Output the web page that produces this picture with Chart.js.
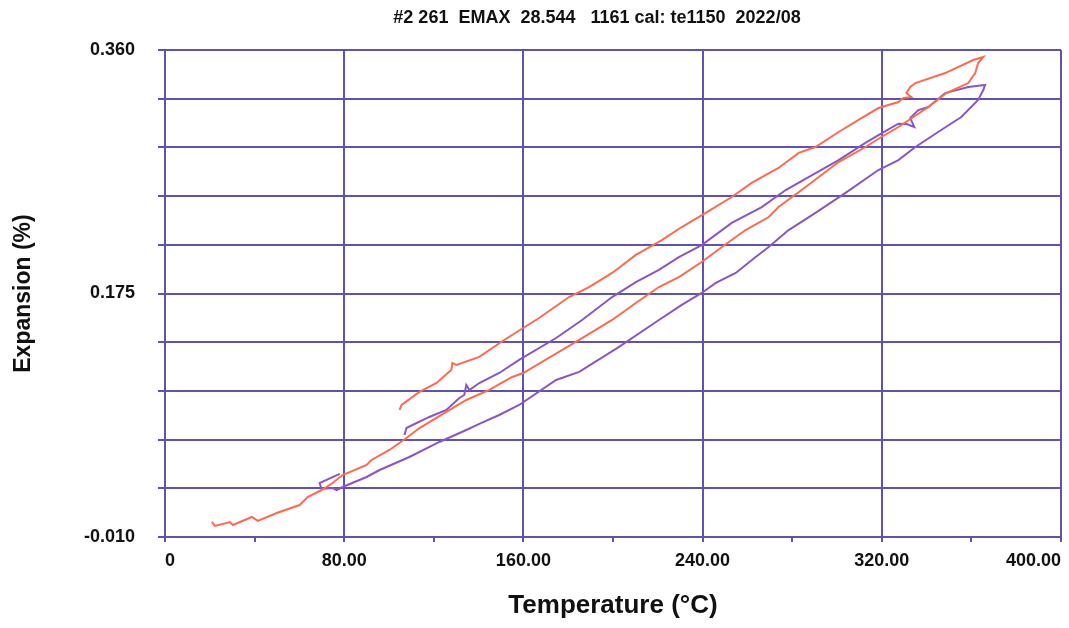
<!DOCTYPE html>
<html>
<head>
<meta charset="utf-8">
<script src="https://cdn.jsdelivr.net/npm/chart.js@4"></script>
<style>
  html, body { margin: 0; padding: 0; background: #ffffff; }
  #wrap { width: 1069px; height: 628px; position: relative; }
</style>
</head>
<body>
<div id="wrap"><canvas id="chart"></canvas></div>
<script>
// ─── Data (temperature °C, expansion %) ───────────────────────────────────────

// first cycle (orange): heating along the lower branch, cooling back on the upper one
const orangeT = [20.9, 22.3, 29.0, 30.3, 38.8, 41.4, 49.9, 60.1, 63.7, 69.9, 74.8, 79.3, 90.0, 92.2,
    100.2, 107.8, 113.6, 125.6, 134.5, 144.8, 155.0, 159.9, 184.9, 199.6, 210.2, 220.5, 229.4, 239.6,
    248.6, 259.2, 269.5, 273.9, 286.0, 300.7, 312.7, 319.8, 327.4, 340.8, 348.8, 358.6, 361.7, 363.0,
    365.3,
    360.8, 348.3, 335.0, 332.7, 331.0, 333.2, 329.6, 327.4, 318.5, 310.9, 300.7, 290.4, 282.9, 273.9,
    261.9, 253.0, 241.4, 230.7, 221.8, 210.2, 199.6, 189.3, 180.4, 167.0, 151.4, 140.3, 130.1, 128.3,
    127.8, 121.2, 113.6, 105.6, 104.7];
const orangeE = [0.0014, -0.0016, 0.0014, -0.0009, 0.0052, 0.0022, 0.0082, 0.0143, 0.0204, 0.0257, 0.0310,
    0.0371, 0.0447, 0.0485, 0.0561, 0.0652, 0.0728, 0.0850, 0.0941, 0.1017, 0.1116, 0.1146, 0.1397,
    0.1549, 0.1678, 0.1799, 0.1875, 0.1989, 0.2103, 0.2232, 0.2331, 0.2407, 0.2559, 0.2749, 0.2863,
    0.2939, 0.3015, 0.3167, 0.3273, 0.3349, 0.3425, 0.3501, 0.3547,
    0.3524, 0.3425, 0.3349, 0.3319, 0.3273, 0.3243, 0.3235, 0.3205, 0.3159, 0.3083, 0.2977, 0.2863,
    0.2818, 0.2704, 0.2590, 0.2483, 0.2362, 0.2255, 0.2156, 0.2043, 0.1906, 0.1799, 0.1723, 0.1564,
    0.1397, 0.1268, 0.1207, 0.1222, 0.1169, 0.1070, 0.1002, 0.0903, 0.0865];

// second cycle (purple)
const purpleT = [78.0, 69.0, 69.9, 74.8, 76.6, 79.3, 90.0, 95.8, 109.1, 122.5, 134.5, 140.3,
    149.2, 158.1, 174.6, 184.9, 202.7, 220.5, 230.7, 239.6, 245.9, 254.8, 263.7, 269.5, 278.4, 290.4,
    303.8, 318.5, 327.4, 335.0, 346.5, 355.5, 363.0, 365.3, 366.1,
    358.6, 348.3, 340.8, 336.3, 332.7, 334.5, 331.0, 327.4, 318.5, 312.7, 300.7, 287.3, 277.1, 266.4,
    253.0, 239.6, 229.4, 220.5, 210.2, 199.6, 186.2, 174.6, 158.1, 149.2, 140.3, 135.9, 134.5, 133.6,
    131.4, 125.6, 118.0, 110.5, 107.8, 106.9];
const purpleE = [0.0379, 0.0310, 0.0265, 0.0272, 0.0257, 0.0280, 0.0356, 0.0409, 0.0508, 0.0622,
    0.0713, 0.0759, 0.0827, 0.0903, 0.1093, 0.1154, 0.1344, 0.1549, 0.1663, 0.1754, 0.1830, 0.1906,
    0.2027, 0.2103, 0.2232, 0.2362, 0.2514, 0.2688, 0.2764, 0.2863, 0.2992, 0.3091, 0.3220, 0.3296,
    0.3334,
    0.3319, 0.3273, 0.3167, 0.3144, 0.3083, 0.3015, 0.3038, 0.3040, 0.2954, 0.2894, 0.2764, 0.2635,
    0.2536, 0.2407, 0.2286, 0.2118, 0.2027, 0.1929, 0.1837, 0.1723, 0.1549, 0.1412, 0.1245, 0.1146,
    0.1070, 0.1017, 0.1055, 0.0979, 0.0956, 0.0865, 0.0812, 0.0751, 0.0728, 0.0675];

// ejes
const xTickValues  = [0, 40, 80, 120, 160, 200, 240, 280, 320, 360, 400];
const xLabelValues = [0, 80, 160, 240, 320, 400];
const yTickValues  = [-0.010, 0.027, 0.064, 0.101, 0.138, 0.175, 0.212, 0.249, 0.286, 0.323, 0.360];
const yLabelValues = [-0.010, 0.175, 0.360];

const TITLE = '#2 261  EMAX  28.544   1161 cal: te1150  2022/08';

// ─── Estilo ───────────────────────────────────────────────────────────────────
const GRID   = '#5c52b8';
const ORANGE = '#ff6a4d';
const PURPLE = '#8b55c4';
const FONT   = '"Liberation Sans", Arial, sans-serif';

const toPoints = (xs, ys) => xs.map((x, i) => ({ x, y: ys[i] }));
const isIn = (list, v) => list.some(l => Math.abs(l - v) < 1e-9);

// título dibujado a mano: en el original no está centrado ni en el lienzo ni en el área
const headerTitle = {
    id: 'headerTitle',
    afterDraw(chart) {
        const ctx = chart.ctx;
        ctx.save();
        ctx.font = `bold 18px ${FONT}`;
        ctx.fillStyle = '#111';
        ctx.textAlign = 'center';
        ctx.textBaseline = 'middle';
        ctx.fillText(TITLE, 597, 18);
        ctx.restore();
    }
};

new Chart(document.getElementById('chart'), {
    type: 'scatter',
    data: {
        datasets: [
            {
                data: toPoints(orangeT, orangeE),
                showLine: true,
                borderColor: ORANGE,
                borderWidth: 2,
                pointRadius: 0,
                tension: 0
            },
            {
                data: toPoints(purpleT, purpleE),
                showLine: true,
                borderColor: PURPLE,
                borderWidth: 2,
                pointRadius: 0,
                tension: 0
            }
        ]
    },
    plugins: [headerTitle],
    options: {
        responsive: true,
        maintainAspectRatio: false,
        animation: false,
        layout: { padding: { top: 50, right: 6, bottom: 0, left: 0 } },
        plugins: {
            legend: { display: false },
            tooltip: { enabled: false },
            title: { display: false }
        },
        scales: {
            x: {
                type: 'linear',
                min: 0,
                max: 400,
                afterBuildTicks: scale => { scale.ticks = xTickValues.map(v => ({ value: v })); },
                afterFit: scale => { scale.height = 91; },
                grid: {
                    color: c => (c.tick && isIn(xLabelValues, c.tick.value)) ? GRID : 'rgba(0,0,0,0)',
                    tickColor: GRID,
                    lineWidth: 2,
                    tickLength: 5
                },
                border: { color: GRID, width: 2 },
                ticks: {
                    align: 'inner',
                    padding: 8,
                    color: '#111',
                    font: { family: FONT, size: 18, weight: 'bold' },
                    callback: v => isIn(xLabelValues, v) ? (v === 0 ? '0' : v.toFixed(2)) : ''
                },
                title: {
                    display: true,
                    text: 'Temperature (°C)',
                    color: '#111',
                    font: { family: FONT, size: 26, weight: 'bold' },
                    padding: { top: 0, bottom: 7 }
                }
            },
            y: {
                type: 'linear',
                min: -0.010,
                max: 0.360,
                afterBuildTicks: scale => { scale.ticks = yTickValues.map(v => ({ value: v })); },
                afterFit: scale => { scale.width = 165; },
                grid: {
                    color: GRID,
                    lineWidth: 2,
                    tickLength: 7
                },
                border: { color: GRID, width: 2 },
                ticks: {
                    padding: 23,
                    color: '#111',
                    font: { family: FONT, size: 18, weight: 'bold' },
                    callback: v => isIn(yLabelValues, v) ? v.toFixed(3) : ''
                },
                title: {
                    display: true,
                    text: 'Expansion (%)',
                    color: '#111',
                    font: { family: FONT, size: 23, weight: 'bold' },
                    padding: { top: 10, bottom: 0 }
                }
            }
        }
    }
});
</script>
</body>
</html>
